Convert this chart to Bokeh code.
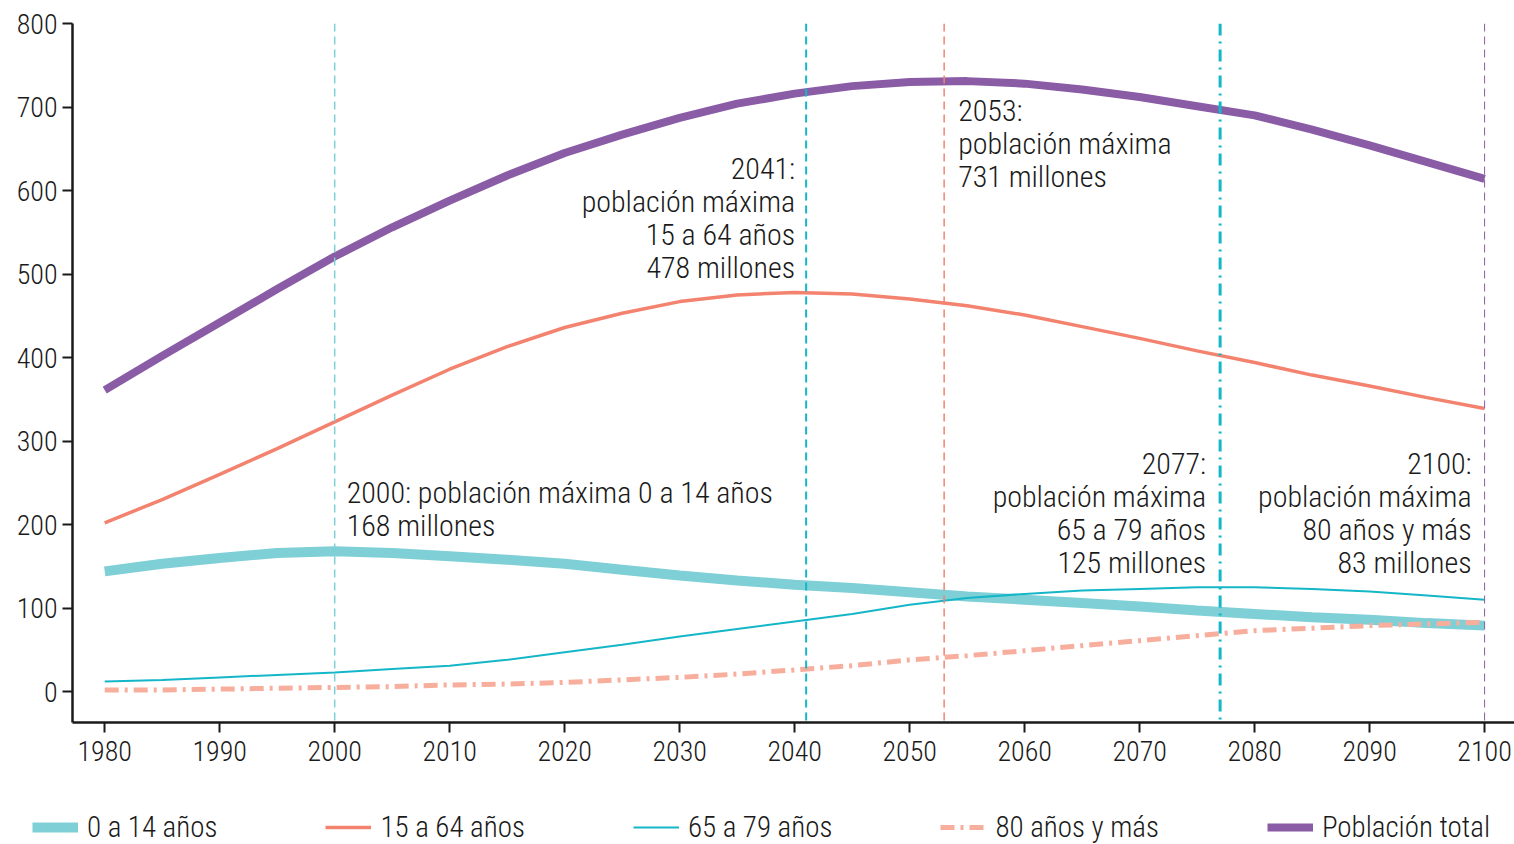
from bokeh.plotting import figure
from bokeh.layouts import column
from bokeh.models import Range1d, Span, Label, Legend, LegendItem, FixedTicker
from bokeh.embed import file_html
from bokeh.resources import INLINE

FONT = "Roboto Condensed Light"

years = [1980, 1985, 1990, 1995, 2000, 2005, 2010, 2015, 2020, 2025, 2030, 2035, 2040,
         2045, 2050, 2055, 2060, 2065, 2070, 2075, 2080, 2085, 2090, 2095, 2100]
pop_0_14 = [144, 153, 160, 166, 168, 166, 162, 158, 153, 146, 139, 133, 128,
            124, 119, 114, 110, 106, 102, 97, 93, 89, 86, 82, 79]
pop_15_64 = [202, 230, 260, 291, 323, 355, 386, 413, 436, 453, 467, 475, 478,
             476, 470, 462, 451, 437, 423, 408, 394, 379, 366, 352, 339]
pop_65_79 = [12, 14, 17, 20, 23, 27, 31, 38, 47, 56, 66, 75, 84,
             93, 104, 112, 117, 121, 123, 125, 125, 123, 120, 115, 110]
pop_80 = [2, 2, 3, 4, 5, 6, 8, 9, 11, 14, 17, 21, 26,
          31, 38, 43, 49, 55, 61, 67, 73, 76, 79, 81, 83]
pop_total = [361, 402, 442, 482, 521, 556, 588, 618, 645, 667, 687, 704, 716,
             725, 730, 731, 728, 721, 712, 701, 690, 673, 654, 634, 614]

series_names = ["0 a 14 años", "15 a 64 años", "65 a 79 años", "80 años y más", "Población total"]
x_ticks = [1980, 1990, 2000, 2010, 2020, 2030, 2040, 2050, 2060, 2070, 2080, 2090, 2100]
y_ticks = [0, 100, 200, 300, 400, 500, 600, 700, 800]

peak_years = [2000, 2041, 2053, 2077, 2100]
peak_notes = [
    ["2000: población máxima 0 a 14 años", "168 millones"],
    ["2041:", "población máxima", "15 a 64 años", "478 millones"],
    ["2053:", "población máxima", "731 millones"],
    ["2077:", "población máxima", "65 a 79 años", "125 millones"],
    ["2100:", "población máxima", "80 años y más", "83 millones"],
]

C_014 = "#7ecfd6"
C_1564 = "#f3826f"
C_6579 = "#14b6c8"
C_80 = "#f7ae9c"
C_TOT = "#8a5ca6"
TXT = "#1a1a1a"

series_styles = [
    dict(line_color=C_014, line_width=10),
    dict(line_color=C_1564, line_width=3.5),
    dict(line_color=C_6579, line_width=2),
    dict(line_color=C_80, line_width=5, line_dash="14 6 3 6"),
    dict(line_color=C_TOT, line_width=8),
]
series_values = [pop_0_14, pop_15_64, pop_65_79, pop_80, pop_total]
draw_order = [0, 1, 2, 4, 3]

p = figure(width=1514, height=784, output_backend="svg", toolbar_location=None,
           x_range=Range1d(1977.2, 2102.6), y_range=Range1d(-37, 800),
           min_border_left=72, min_border_right=0, min_border_top=23, min_border_bottom=62)
p.outline_line_color = None
p.xgrid.visible = False
p.ygrid.visible = False

for ax in (p.xaxis[0], p.yaxis[0]):
    ax.axis_line_width = 2.5
    ax.axis_line_color = TXT
    ax.major_tick_line_width = 2
    ax.major_tick_line_color = TXT
    ax.major_tick_in = 0
    ax.major_tick_out = 10
    ax.minor_tick_line_color = None
    ax.major_label_text_font = FONT
    ax.major_label_text_font_size = "28px"
    ax.major_label_text_color = TXT
p.xaxis.ticker = FixedTicker(ticks=x_ticks)
p.yaxis.ticker = FixedTicker(ticks=y_ticks)
p.xaxis.major_label_standoff = 8
p.yaxis.major_label_standoff = 5

for k in draw_order:
    p.line(years, series_values[k], **series_styles[k])

span_styles = [
    dict(line_color=C_014, line_width=1.5, line_dash="8 5"),
    dict(line_color=C_6579, line_width=2, line_dash="8 5"),
    dict(line_color=C_1564, line_width=1.5, line_dash="8 5"),
    dict(line_color=C_6579, line_width=3, line_dash="12 6 2 6"),
    dict(line_color=C_TOT, line_width=1, line_dash="8 5"),
]
for yr, st in zip(peak_years, span_styles):
    p.add_layout(Span(location=yr, dimension="height", **st))

# annotation placement: (x offset px, align, first line y-center in data units)
note_pos = [(12, "left", 238.3), (-11, "right", 626.3), (14, "left", 695.8),
            (-14, "right", 273.0), (-13, "right", 273.0)]
line_step = 33 / 0.835
for yr, lines, (xo, al, y0) in zip(peak_years, peak_notes, note_pos):
    for i, t in enumerate(lines):
        p.add_layout(Label(x=yr, y=y0 - i * line_step, x_offset=xo, text=t,
                           text_align=al, text_baseline="middle",
                           text_font=FONT, text_font_size="30px", text_color=TXT))

# legend strip below the chart (its sample lines lie outside its visible range)
lg = figure(width=1514, height=60, output_backend="svg", toolbar_location=None,
            x_range=Range1d(0, 1), y_range=Range1d(0, 1),
            x_axis_location=None, y_axis_location=None,
            min_border_left=0, min_border_right=0, min_border_top=0, min_border_bottom=0)
lg.frame_align = False
lg.grid.visible = False
lg.outline_line_color = None
items = []
for name, st in zip(series_names, series_styles):
    r = lg.line(x=[-5, -4], y=[-5, -4], **st)
    items.append(LegendItem(label=name, renderers=[r]))
legend = Legend(items=items, orientation="horizontal", location=(32, 0),
                glyph_width=46, glyph_height=28, label_height=28,
                label_standoff=9, spacing=108, padding=0, margin=0,
                border_line_color=None, background_fill_alpha=0,
                label_text_font=FONT, label_text_font_size="29px",
                label_text_color=TXT)
lg.add_layout(legend, "center")

layout = column(p, lg, spacing=0)
open("out.html", "w").write(file_html(layout, INLINE))
